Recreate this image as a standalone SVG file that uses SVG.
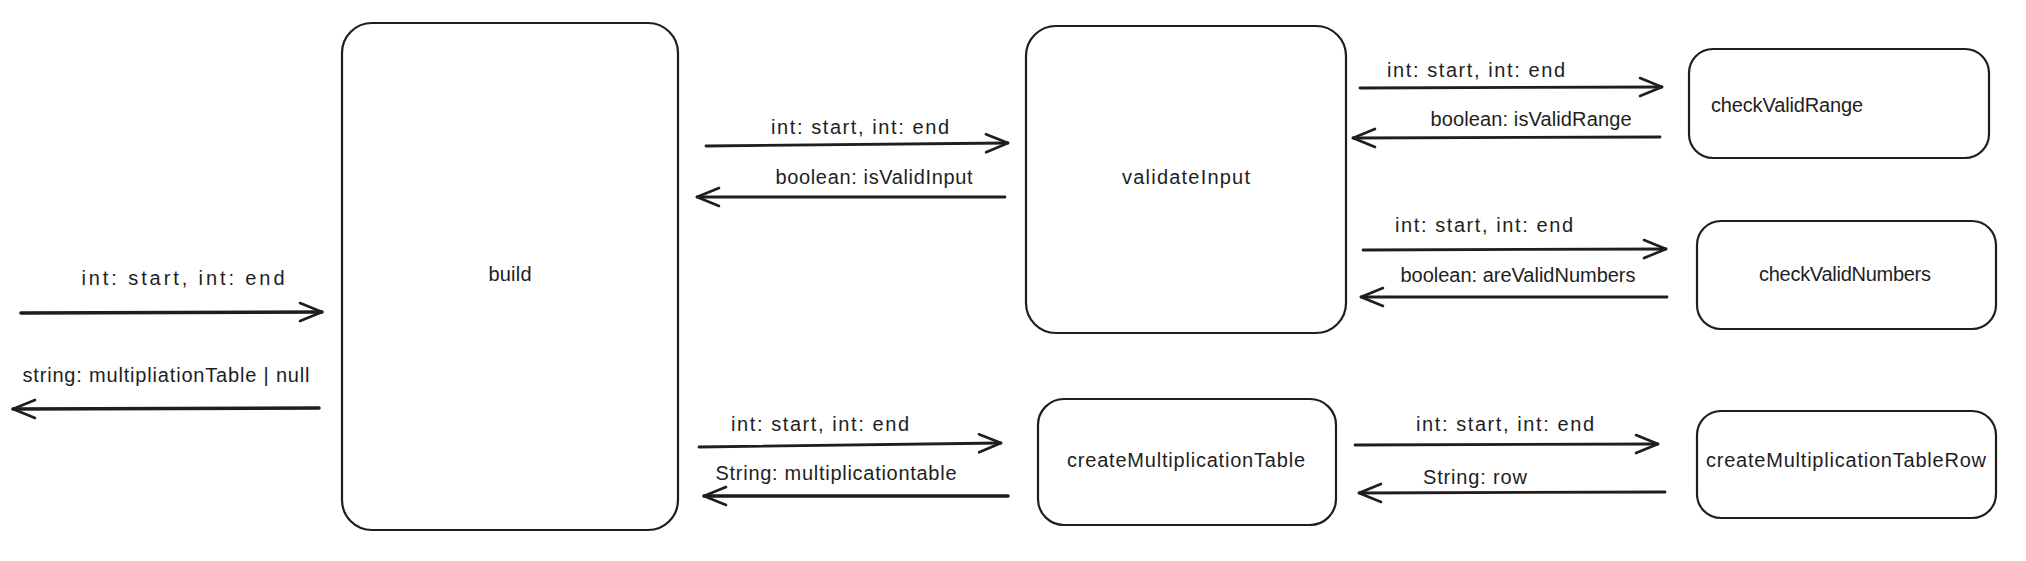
<svg xmlns="http://www.w3.org/2000/svg" width="2026" height="561" viewBox="0 0 2026 561">
<style>
.node{fill:#fff;stroke:#1e1e1e;stroke-width:2.2}
.lbl{font-family:"Liberation Sans",Arial,sans-serif;font-size:20px;fill:#1e1e1e}
.c{text-anchor:middle}
.edge{fill:none;stroke:#1e1e1e;stroke-width:2.8;stroke-linecap:round;marker-end:url(#ah)}
.thick{stroke-width:3.6}
</style>
<defs>
<marker id="ah" viewBox="0 0 28 22" refX="25" refY="11" markerWidth="28" markerHeight="22" orient="auto" markerUnits="userSpaceOnUse">
<path d="M3 2 L25 11 L3 20" fill="none" stroke="#1e1e1e" stroke-width="2.6" stroke-linecap="round" stroke-linejoin="round"/>
</marker>
</defs>
<rect width="2026" height="561" fill="#fff"/>

<g id="build">
<rect class="node" x="342" y="23" width="336" height="507" rx="30"/>
<text class="lbl c" x="510" y="281" textLength="43">build</text>
</g>
<g id="validateInput">
<rect class="node" x="1026" y="26" width="320" height="307" rx="30"/>
<text class="lbl c" x="1186" y="184" textLength="128">validateInput</text>
</g>
<g id="checkValidRange">
<rect class="node" x="1689" y="49" width="300" height="109" rx="24"/>
<text class="lbl" x="1711" y="112" textLength="152">checkValidRange</text>
</g>
<g id="checkValidNumbers">
<rect class="node" x="1697" y="221" width="299" height="108" rx="24"/>
<text class="lbl c" x="1845" y="281" textLength="172">checkValidNumbers</text>
</g>
<g id="createMultiplicationTable">
<rect class="node" x="1038" y="399" width="298" height="126" rx="26"/>
<text class="lbl c" x="1186" y="467" textLength="238">createMultiplicationTable</text>
</g>
<g id="createMultiplicationTableRow">
<rect class="node" x="1697" y="411" width="299" height="107" rx="24"/>
<text class="lbl c" x="1846" y="467" textLength="280">createMultiplicationTableRow</text>
</g>

<g id="connectors">
<path class="edge thick" d="M21 313 L322 312"/>
<text class="lbl c" x="183" y="285" textLength="203">int: start, int: end</text>
<path class="edge thick" d="M319 408 L13 409"/>
<text class="lbl c" x="166" y="382" textLength="287">string: multipliationTable | null</text>

<path class="edge" d="M706 146 L1008 143"/>
<text class="lbl c" x="860" y="134" textLength="178">int: start, int: end</text>
<path class="edge" d="M1005 197 L697 197"/>
<text class="lbl c" x="874" y="184" textLength="197">boolean: isValidInput</text>

<path class="edge" d="M699 447 L1001 443"/>
<text class="lbl c" x="820" y="431" textLength="178">int: start, int: end</text>
<path class="edge thick" d="M1008 496 L704 496"/>
<text class="lbl c" x="836" y="480" textLength="241">String: multiplicationtable</text>

<path class="edge" d="M1360 88 L1662 87"/>
<text class="lbl c" x="1476" y="77" textLength="178">int: start, int: end</text>
<path class="edge" d="M1660 137 L1353 138"/>
<text class="lbl c" x="1531" y="126" textLength="201">boolean: isValidRange</text>

<path class="edge" d="M1363 250 L1666 249"/>
<text class="lbl c" x="1484" y="232" textLength="178">int: start, int: end</text>
<path class="edge" d="M1667 297 L1361 297"/>
<text class="lbl c" x="1518" y="282" textLength="235">boolean: areValidNumbers</text>

<path class="edge" d="M1355 445 L1658 444"/>
<text class="lbl c" x="1505" y="431" textLength="178">int: start, int: end</text>
<path class="edge" d="M1665 492 L1359 493"/>
<text class="lbl c" x="1475" y="484" textLength="104">String: row</text>
</g>
</svg>
